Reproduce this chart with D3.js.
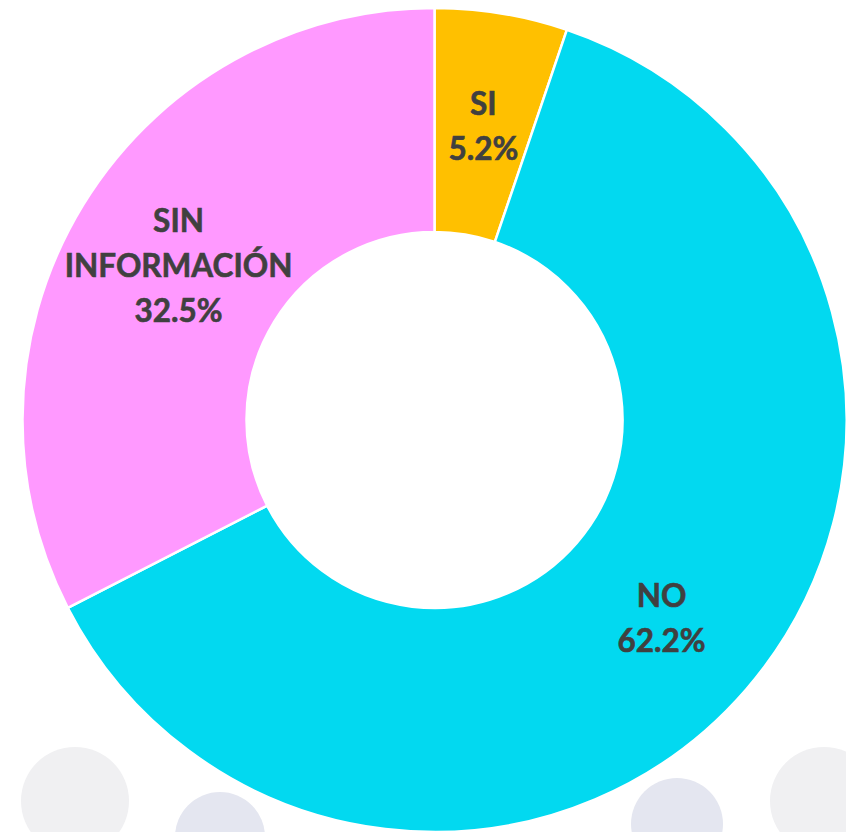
<!DOCTYPE html>
<html>
<head>
<meta charset="utf-8">
<script src="https://cdn.jsdelivr.net/npm/d3@7"></script>
<style>
    body { margin: 0; background: #fff; }
    svg { display: block; }
</style>
</head>
<body>
<svg width="846" height="832"></svg>
<script>
var categorias = ["SI", "NO", "SIN INFORMACIÓN"];
var valores = [5.2, 62.2, 32.5];
var etiquetas = [["SI", "5.2%"], ["NO", "62.2%"], ["SIN", "INFORMACIÓN", "32.5%"]];
var colores = ["#FFC000", "#02D9F0", "#FF99FF"];

function makeDonut() {
    var cx = 434.5, cy = 420;
    var rOut = 412, rIn = 188;
    var svg = d3.select("svg");

    // fondo decorativo (circulos tenues)
    var deco = [
        { x: 75, y: 801, r: 54, c: "#f0f0f2" },
        { x: 220, y: 837, r: 45, c: "#e4e6f0" },
        { x: 677, y: 824, r: 46, c: "#e4e6f0" },
        { x: 824, y: 801, r: 54, c: "#f0f0f2" }
    ];
    svg.selectAll("circle.deco")
        .data(deco)
        .enter()
        .append("circle")
        .attr("class", "deco")
        .attr("cx", d => d.x).attr("cy", d => d.y).attr("r", d => d.r)
        .attr("fill", d => d.c);

    var pie = d3.pie().sort(null).value(d => d);
    var arcs = pie(valores);

    var arc = d3.arc().innerRadius(rIn).outerRadius(rOut);
    var arcLbl = d3.arc().innerRadius(300).outerRadius(300);

    var g = svg.append("g").attr("transform", "translate(" + cx + "," + cy + ")");

    g.selectAll("path")
        .data(arcs)
        .enter()
        .append("path")
        .attr("d", arc)
        .attr("fill", (d, i) => colores[i])
        .attr("stroke", "#fff")
        .attr("stroke-width", 2.5)
        .attr("stroke-linejoin", "round");

    var lh = 45;
    var txt = g.selectAll("text")
        .data(arcs)
        .enter()
        .append("text")
        .attr("text-anchor", "middle")
        .attr("font-family", "Lato, 'Open Sans', sans-serif")
        .attr("font-weight", "bold")
        .attr("font-size", 31.5)
        .attr("fill", "#404040")
        .attr("stroke", "#404040")
        .attr("stroke-width", 0.6);

    txt.each(function (d, i) {
        var c = arcLbl.centroid(d);
        var lines = etiquetas[i];
        var b0 = c[1] + 13 - (lines.length - 1) * lh / 2;
        d3.select(this).selectAll("tspan")
            .data(lines)
            .enter()
            .append("tspan")
            .attr("x", c[0])
            .attr("y", (l, j) => b0 + j * lh)
            .text(l => l);
    });
}
makeDonut();
</script>
</body>
</html>
